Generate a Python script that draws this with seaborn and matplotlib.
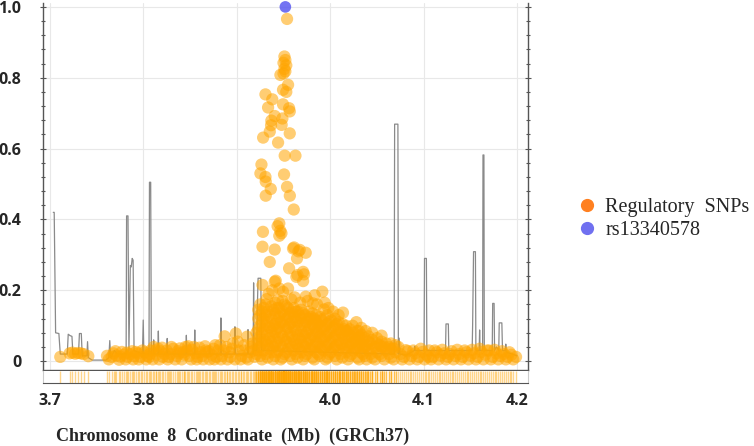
import matplotlib
matplotlib.use("Agg")
import matplotlib.pyplot as plt
from matplotlib.lines import Line2D
from matplotlib.ticker import MultipleLocator
import seaborn as sns

# SNP positions (Mb) and LD r2 values
lead_snp = [(3.952, 1.000)]

peak_snps = [
    (3.9538, 0.966),
    (3.951, 0.860), (3.952, 0.850), (3.950, 0.842), (3.953, 0.835), (3.951, 0.825),
    (3.952, 0.818), (3.950, 0.812), (3.9467, 0.808), (3.9549, 0.780), (3.9495, 0.766),
    (3.953, 0.760), (3.9307, 0.753), (3.938, 0.739), (3.9335, 0.716), (3.9495, 0.725),
    (3.956, 0.714), (3.9567, 0.705), (3.9406, 0.692), (3.937, 0.679), (3.9367, 0.666),
    (3.9488, 0.685), (3.948, 0.667), (3.9353, 0.648), (3.9282, 0.631), (3.9442, 0.617),
    (3.9567, 0.643), (3.9513, 0.580), (3.9628, 0.580), (3.9264, 0.555), (3.9253, 0.530),
    (3.9307, 0.520), (3.931, 0.507), (3.9506, 0.527), (3.9364, 0.486), (3.9538, 0.492),
    (3.931, 0.467), (3.9568, 0.467), (3.961, 0.428), (3.9455, 0.389), (3.9437, 0.381),
    (3.928, 0.365), (3.9478, 0.361), (3.9455, 0.354), (3.9466, 0.368), (3.9275, 0.323),
    (3.9406, 0.315), (3.9613, 0.321), (3.9674, 0.314), (3.9738, 0.306), (3.9353, 0.280),
    (3.9645, 0.290), (3.956, 0.262), (3.971, 0.252), (3.965, 0.243), (3.972, 0.245),
    (3.9417, 0.227), (3.9275, 0.215), (3.9549, 0.205), (3.9738, 0.182), (3.9834, 0.186),
    (3.9916, 0.196), (4.0137, 0.137), (4.0333, 0.094), (4.031, 0.085), (3.9602, 0.318),
    (3.966, 0.310), (3.9638, 0.238), (3.971, 0.226), (3.9406, 0.224), (3.9495, 0.196),
    (3.9584, 0.174), (3.944, 0.172), (3.934, 0.190), (3.938, 0.200), (3.9816, 0.163),
    (3.9934, 0.146), (4.018, 0.086), (3.9455, 0.205),
]

# loose points sitting just above the dense block
fringe_snps = [
    (3.932, 0.175), (3.962, 0.180), (3.976, 0.170), (3.986, 0.160), (3.994, 0.165),
    (4.003, 0.140), (4.009, 0.130), (4.024, 0.100), (4.028, 0.110), (4.038, 0.085),
    (4.045, 0.080), (4.055, 0.072), (3.968, 0.165), (3.998, 0.150),
]

cloud_snps = [
    (3.921, 0.02), (3.921, 0.05), (3.921, 0.08),
    (3.925, 0.015), (3.925, 0.04), (3.925, 0.07), (3.925, 0.10), (3.925, 0.13), (3.925, 0.16),
    (3.929, 0.03), (3.929, 0.06), (3.929, 0.09), (3.929, 0.12), (3.929, 0.15),
    (3.933, 0.01), (3.933, 0.045), (3.933, 0.075), (3.933, 0.11), (3.933, 0.14),
    (3.937, 0.025), (3.937, 0.055), (3.937, 0.085), (3.937, 0.12), (3.937, 0.155),
    (3.941, 0.015), (3.941, 0.045), (3.941, 0.08), (3.941, 0.105), (3.941, 0.135), (3.941, 0.165),
    (3.945, 0.03), (3.945, 0.065), (3.945, 0.095), (3.945, 0.125), (3.945, 0.15),
    (3.949, 0.01), (3.949, 0.04), (3.949, 0.07), (3.949, 0.11), (3.949, 0.14), (3.949, 0.17),
    (3.953, 0.025), (3.953, 0.055), (3.953, 0.09), (3.953, 0.12), (3.953, 0.155),
    (3.957, 0.015), (3.957, 0.05), (3.957, 0.08), (3.957, 0.105), (3.957, 0.135),
    (3.961, 0.03), (3.961, 0.06), (3.961, 0.095), (3.961, 0.125), (3.961, 0.15),
    (3.965, 0.01), (3.965, 0.045), (3.965, 0.075), (3.965, 0.11), (3.965, 0.14),
    (3.969, 0.025), (3.969, 0.055), (3.969, 0.085), (3.969, 0.12), (3.969, 0.145),
    (3.973, 0.015), (3.973, 0.04), (3.973, 0.07), (3.973, 0.10), (3.973, 0.13),
    (3.977, 0.03), (3.977, 0.06), (3.977, 0.09), (3.977, 0.12), (3.977, 0.14),
    (3.981, 0.01), (3.981, 0.045), (3.981, 0.075), (3.981, 0.105), (3.981, 0.135),
    (3.985, 0.025), (3.985, 0.055), (3.985, 0.085), (3.985, 0.115), (3.985, 0.13),
    (3.989, 0.015), (3.989, 0.04), (3.989, 0.07), (3.989, 0.10), (3.989, 0.125),
    (3.993, 0.03), (3.993, 0.06), (3.993, 0.09), (3.993, 0.12),
    (3.997, 0.01), (3.997, 0.045), (3.997, 0.075), (3.997, 0.105), (3.997, 0.13),
    (4.001, 0.025), (4.001, 0.055), (4.001, 0.085), (4.001, 0.115),
    (4.005, 0.015), (4.005, 0.04), (4.005, 0.07), (4.005, 0.10), (4.005, 0.12),
    (4.009, 0.03), (4.009, 0.06), (4.009, 0.09), (4.009, 0.11),
    (4.013, 0.01), (4.013, 0.045), (4.013, 0.075), (4.013, 0.105),
    (4.017, 0.025), (4.017, 0.055), (4.017, 0.085), (4.017, 0.10),
    (4.021, 0.015), (4.021, 0.04), (4.021, 0.07), (4.021, 0.09),
    (4.025, 0.03), (4.025, 0.055), (4.025, 0.08),
    (4.029, 0.01), (4.029, 0.04), (4.029, 0.065), (4.029, 0.085),
    (4.033, 0.025), (4.033, 0.05), (4.033, 0.075),
    (4.037, 0.015), (4.037, 0.04), (4.037, 0.065),
    (4.041, 0.03), (4.041, 0.055), (4.041, 0.07),
    (4.045, 0.01), (4.045, 0.035), (4.045, 0.06),
    (4.050, 0.025), (4.050, 0.05), (4.050, 0.065),
    (4.055, 0.015), (4.055, 0.04), (4.055, 0.055),
    (4.060, 0.03), (4.060, 0.05),
    (4.065, 0.01), (4.065, 0.035), (4.065, 0.05),
    (4.070, 0.025), (4.070, 0.045),
]

cloud_fill_snps = [
    (3.923, 0.03), (3.923, 0.06), (3.923, 0.09), (3.923, 0.12), (3.923, 0.145),
    (3.927, 0.005), (3.927, 0.05), (3.927, 0.08), (3.927, 0.11), (3.927, 0.14),
    (3.931, 0.02), (3.931, 0.055), (3.931, 0.10), (3.931, 0.13), (3.931, 0.16),
    (3.935, 0.035), (3.935, 0.065), (3.935, 0.095), (3.935, 0.13),
    (3.939, 0.005), (3.939, 0.04), (3.939, 0.07), (3.939, 0.10), (3.939, 0.145),
    (3.943, 0.025), (3.943, 0.055), (3.943, 0.09), (3.943, 0.115), (3.943, 0.15),
    (3.947, 0.005), (3.947, 0.045), (3.947, 0.08), (3.947, 0.11), (3.947, 0.135),
    (3.951, 0.02), (3.951, 0.06), (3.951, 0.10), (3.951, 0.13), (3.951, 0.16),
    (3.955, 0.035), (3.955, 0.07), (3.955, 0.095), (3.955, 0.125), (3.955, 0.15),
    (3.959, 0.005), (3.959, 0.04), (3.959, 0.07), (3.959, 0.11), (3.959, 0.14),
    (3.963, 0.02), (3.963, 0.05), (3.963, 0.085), (3.963, 0.115), (3.963, 0.14),
    (3.967, 0.035), (3.967, 0.065), (3.967, 0.10), (3.967, 0.13),
    (3.971, 0.005), (3.971, 0.045), (3.971, 0.075), (3.971, 0.11), (3.971, 0.135),
    (3.975, 0.02), (3.975, 0.05), (3.975, 0.08), (3.975, 0.11),
    (3.979, 0.035), (3.979, 0.065), (3.979, 0.10), (3.979, 0.125),
    (3.983, 0.005), (3.983, 0.04), (3.983, 0.07), (3.983, 0.095), (3.983, 0.12),
    (3.987, 0.02), (3.987, 0.05), (3.987, 0.08), (3.987, 0.105),
    (3.991, 0.035), (3.991, 0.065), (3.991, 0.095), (3.991, 0.115),
    (3.995, 0.005), (3.995, 0.04), (3.995, 0.07), (3.995, 0.10),
    (3.999, 0.02), (3.999, 0.05), (3.999, 0.08), (3.999, 0.11),
    (4.003, 0.035), (4.003, 0.065), (4.003, 0.095),
    (4.007, 0.005), (4.007, 0.045), (4.007, 0.075), (4.007, 0.105),
    (4.011, 0.02), (4.011, 0.05), (4.011, 0.08),
    (4.015, 0.035), (4.015, 0.065), (4.015, 0.09),
    (4.019, 0.005), (4.019, 0.045), (4.019, 0.075),
    (4.023, 0.02), (4.023, 0.05), (4.023, 0.07),
    (4.027, 0.035), (4.027, 0.06),
    (4.031, 0.005), (4.031, 0.045), (4.031, 0.07),
    (4.035, 0.02), (4.035, 0.04), (4.035, 0.06),
    (4.039, 0.005), (4.039, 0.045),
    (4.043, 0.02), (4.043, 0.05),
    (4.048, 0.005), (4.048, 0.04),
    (4.053, 0.02), (4.053, 0.045),
    (4.058, 0.005), (4.058, 0.04),
    (4.063, 0.02), (4.063, 0.04),
    (4.068, 0.005), (4.068, 0.035),
]

left_snps = [
    (3.711, 0.012), (3.721, 0.022), (3.724, 0.024), (3.727, 0.021), (3.730, 0.023),
    (3.733, 0.022), (3.736, 0.020), (3.741, 0.014), (3.761, 0.015), (3.766, 0.012),
    (3.768, 0.022), (3.771, 0.016), (3.775, 0.013), (3.779, 0.018), (3.782, 0.024),
    (3.783, 0.012), (3.786, 0.020), (3.790, 0.014), (3.792, 0.026), (3.794, 0.022),
    (3.797, 0.012), (3.801, 0.025), (3.804, 0.015), (3.806, 0.012), (3.808, 0.030),
    (3.811, 0.040), (3.814, 0.018), (3.816, 0.035), (3.818, 0.028), (3.821, 0.012),
    (3.825, 0.030), (3.827, 0.012), (3.829, 0.020), (3.832, 0.035), (3.836, 0.015),
    (3.838, 0.022), (3.839, 0.036), (3.843, 0.025), (3.845, 0.040), (3.847, 0.030),
    (3.849, 0.015), (3.852, 0.032), (3.856, 0.022), (3.858, 0.012), (3.860, 0.038),
    (3.863, 0.015), (3.866, 0.042), (3.868, 0.025), (3.870, 0.028), (3.873, 0.018),
    (3.877, 0.045), (3.878, 0.012), (3.880, 0.030), (3.884, 0.015), (3.887, 0.070),
    (3.889, 0.040), (3.892, 0.025), (3.893, 0.012), (3.896, 0.050), (3.899, 0.078),
    (3.902, 0.030), (3.905, 0.015), (3.908, 0.045), (3.910, 0.010), (3.911, 0.069),
    (3.914, 0.025), (3.917, 0.050), (3.919, 0.012),
]

left_fill_snps = [
    (3.763, 0.005), (3.770, 0.028), (3.774, 0.004), (3.777, 0.026), (3.781, 0.005),
    (3.788, 0.028), (3.789, 0.005), (3.795, 0.005), (3.799, 0.030), (3.803, 0.005),
    (3.807, 0.020), (3.810, 0.005), (3.813, 0.030), (3.817, 0.005), (3.820, 0.038),
    (3.823, 0.020), (3.826, 0.005), (3.830, 0.040), (3.834, 0.005), (3.837, 0.028),
    (3.841, 0.005), (3.844, 0.018), (3.848, 0.042), (3.851, 0.005), (3.854, 0.040),
    (3.857, 0.005), (3.861, 0.025), (3.864, 0.005), (3.867, 0.030), (3.871, 0.005),
    (3.875, 0.035), (3.876, 0.005), (3.882, 0.045), (3.883, 0.005), (3.886, 0.030),
    (3.890, 0.005), (3.895, 0.035), (3.898, 0.005), (3.901, 0.055), (3.904, 0.005),
    (3.907, 0.030), (3.912, 0.005), (3.915, 0.040), (3.918, 0.030),
]

right_snps = [
    (4.073, 0.040), (4.075, 0.020), (4.079, 0.012), (4.081, 0.031), (4.083, 0.028),
    (4.087, 0.015), (4.091, 0.022), (4.095, 0.012), (4.099, 0.026), (4.103, 0.018),
    (4.106, 0.030), (4.110, 0.012), (4.114, 0.025), (4.118, 0.016), (4.122, 0.022),
    (4.126, 0.012), (4.130, 0.028), (4.134, 0.015), (4.138, 0.020), (4.142, 0.012),
    (4.146, 0.025), (4.150, 0.016), (4.154, 0.022), (4.158, 0.012), (4.162, 0.026),
    (4.166, 0.018), (4.170, 0.030), (4.174, 0.012), (4.178, 0.022), (4.182, 0.015),
    (4.186, 0.020), (4.190, 0.012), (4.194, 0.018), (4.199, 0.012),
]

right_fill_snps = [
    (4.077, 0.005), (4.085, 0.005), (4.089, 0.030), (4.093, 0.005), (4.097, 0.035),
    (4.101, 0.005), (4.105, 0.012), (4.108, 0.005), (4.112, 0.030), (4.116, 0.005),
    (4.120, 0.032), (4.124, 0.005), (4.128, 0.020), (4.132, 0.005), (4.136, 0.032),
    (4.140, 0.005), (4.144, 0.030), (4.148, 0.005), (4.152, 0.032), (4.156, 0.005),
    (4.160, 0.035), (4.164, 0.005), (4.168, 0.030), (4.172, 0.005), (4.176, 0.032),
    (4.180, 0.005), (4.184, 0.028), (4.188, 0.005), (4.192, 0.025), (4.196, 0.005),
]

# grey recombination-like trace
rec_trace = [
    (3.7035, 0.42), (3.7045, 0.42), (3.706, 0.08), (3.7095, 0.078), (3.711, 0.02),
    (3.7185, 0.02), (3.7195, 0.076), (3.7215, 0.072), (3.7235, 0.07), (3.7245, 0.02),
    (3.7305, 0.02), (3.7315, 0.078), (3.7335, 0.078), (3.7345, 0.015), (3.7395, 0.015),
    (3.7402, 0.055), (3.741, 0.01), (3.745, 0.003), (3.760, 0.003), (3.763, 0.01),
    (3.764, 0.058), (3.765, 0.01), (3.769, 0.03), (3.772, 0.02), (3.7815, 0.02),
    (3.782, 0.41), (3.7835, 0.41), (3.7845, 0.03), (3.786, 0.27), (3.787, 0.266),
    (3.788, 0.29), (3.789, 0.285), (3.790, 0.03), (3.799, 0.02), (3.7998, 0.116),
    (3.8005, 0.02), (3.806, 0.02), (3.8065, 0.505), (3.8078, 0.505), (3.8085, 0.02),
    (3.8105, 0.02), (3.811, 0.06), (3.8115, 0.02), (3.8155, 0.02), (3.816, 0.085),
    (3.8165, 0.02), (3.825, 0.02), (3.8255, 0.064), (3.826, 0.02), (3.8455, 0.02),
    (3.846, 0.073), (3.8465, 0.02), (3.8545, 0.02), (3.855, 0.088), (3.8555, 0.02),
    (3.8705, 0.02), (3.871, 0.04), (3.8715, 0.02), (3.8825, 0.02), (3.883, 0.122),
    (3.8835, 0.02), (3.8975, 0.02), (3.898, 0.097), (3.8985, 0.02), (3.9115, 0.02),
    (3.912, 0.089), (3.9125, 0.02), (3.9175, 0.02), (3.918, 0.221), (3.9185, 0.03),
    (3.9215, 0.03), (3.922, 0.152), (3.9228, 0.234), (3.9257, 0.234), (3.9265, 0.03),
    (4.0685, 0.02), (4.069, 0.669), (4.0725, 0.669), (4.073, 0.02), (4.0738, 0.065),
    (4.0745, 0.02), (4.0815, 0.017), (4.090, 0.03), (4.0905, 0.042), (4.091, 0.03),
    (4.1005, 0.03), (4.101, 0.29), (4.103, 0.29), (4.1035, 0.03), (4.1235, 0.03),
    (4.124, 0.105), (4.1265, 0.105), (4.127, 0.03), (4.152, 0.03), (4.1525, 0.10),
    (4.1535, 0.309), (4.1555, 0.309), (4.156, 0.03), (4.1595, 0.03), (4.160, 0.088),
    (4.1605, 0.03), (4.1632, 0.03), (4.1636, 0.582), (4.1646, 0.582), (4.165, 0.03),
    (4.1735, 0.03), (4.174, 0.163), (4.1755, 0.163), (4.176, 0.03), (4.178, 0.04),
    (4.1805, 0.03), (4.181, 0.108), (4.1838, 0.108), (4.1845, 0.03), (4.1875, 0.03),
    (4.188, 0.048), (4.1885, 0.025), (4.195, 0.02), (4.200, 0.015),
]

y_ticks = [0, 0.2, 0.4, 0.6, 0.8, 1.0]
y_labels = ["0", "0.2", "0.4", "0.6", "0.8", "1.0"]
x_ticks = [3.7, 3.8, 3.9, 4.0, 4.1, 4.2]
x_labels = ["3.7", "3.8", "3.9", "4.0", "4.1", "4.2"]

sns.set_style("white")
plt.rcParams["font.family"] = ["Open Sans", "DejaVu Sans"]

snps = (left_snps + left_fill_snps + cloud_snps + cloud_fill_snps + fringe_snps
        + peak_snps + right_snps + right_fill_snps)
snp_x = [p[0] for p in snps]
snp_y = [p[1] for p in snps]
rec_x = [p[0] for p in rec_trace]
rec_y = [p[1] for p in rec_trace]

fig = plt.figure(figsize=(7.54, 4.46), dpi=100)
ax = fig.add_axes([43 / 754, 1 - 370 / 446, 485 / 754, 367 / 446])
rug_ax = fig.add_axes([43 / 754, 1 - 383 / 446, 485 / 754, 12 / 446], sharex=ax)

sns.lineplot(x=rec_x, y=rec_y, ax=ax, color="#8a8a8a", lw=0.9,
             estimator=None, sort=False, zorder=2)
sns.scatterplot(x=snp_x, y=snp_y, ax=ax, color="#FFA500", alpha=0.55, s=78,
                edgecolor="none", linewidth=0, legend=False, zorder=3)
sns.scatterplot(x=[p[0] for p in lead_snp], y=[p[1] for p in lead_snp], ax=ax,
                color="#5a5af0", alpha=0.85, s=70, edgecolor="none", legend=False,
                zorder=4, clip_on=False)

ax.set_xlim(3.6925, 4.2118)
ax.set_ylim(-0.025, 1.011)
ax.set_xticks(x_ticks)
ax.set_yticks(y_ticks)
ax.set_yticklabels(y_labels, fontsize=11.5, fontweight="bold")
ax.yaxis.set_minor_locator(MultipleLocator(0.04))
ax.tick_params(axis="x", bottom=False, labelbottom=False)
ax.tick_params(axis="y", which="both", left=True, right=True, direction="inout",
               color="#555555", width=0.8)
ax.tick_params(axis="y", which="major", length=5, pad=13)
ax.tick_params(axis="y", which="minor", length=3)
ax.grid(True, color="#e8e8e8", lw=0.8)
ax.set_axisbelow(True)
ax.set_xlabel("")
ax.set_ylabel("")
ax.spines["top"].set_visible(False)
for side in ["left", "right", "bottom"]:
    ax.spines[side].set_color("#555555")
    ax.spines[side].set_linewidth(1.0)

sns.rugplot(x=snp_x, ax=rug_ax, height=1, color="#FFA500", alpha=0.45, lw=1.2)
rug_ax.set_ylim(0, 1)
rug_ax.set_yticks([])
rug_ax.set_xticks(x_ticks)
rug_ax.set_xticklabels(x_labels, fontsize=11.5, fontweight="bold")
rug_ax.xaxis.set_minor_locator(MultipleLocator(0.02))
rug_ax.tick_params(axis="x", which="major", direction="inout", length=6, pad=4,
                   color="#555555", width=0.8)
rug_ax.tick_params(axis="x", which="minor", direction="inout", length=3,
                   color="#555555", width=0.8)
rug_ax.spines["top"].set_visible(False)
rug_ax.spines["left"].set_color("#cccccc")
rug_ax.spines["right"].set_color("#cccccc")
rug_ax.spines["bottom"].set_color("#555555")

fig.text(233 / 754, 1 - 436 / 446, "Chromosome  8  Coordinate  (Mb)  (GRCh37)",
         ha="center", va="center", fontsize=13, fontweight="bold",
         family="Liberation Serif")

handles = [
    Line2D([], [], marker="o", ls="", color="#FF8020", markersize=8.5),
    Line2D([], [], marker="o", ls="", color="#7070F0", markersize=8.5),
]
fig.legend(handles, ["Regulatory  SNPs", "rs13340578"], loc="center left",
           bbox_to_anchor=(565 / 754, 1 - 219 / 446), frameon=False,
           prop={"family": "Liberation Serif", "size": 14.5},
           handletextpad=0.3, labelspacing=0.15, borderpad=0, handlelength=1.2)

fig.savefig("out.png", dpi=100)
